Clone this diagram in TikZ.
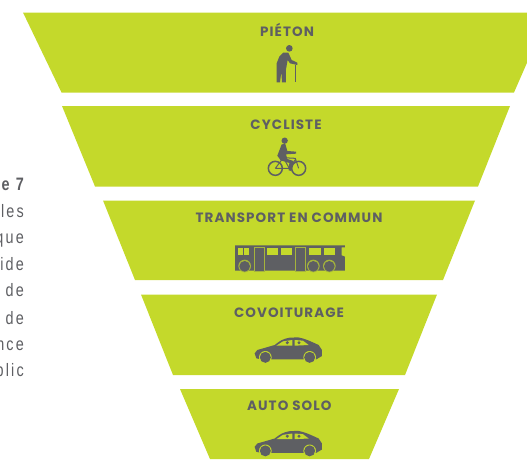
\documentclass[tikz,border=0pt]{standalone}
\usepackage{fontspec}
\setmainfont{Poppins}
\newfontfamily\sidefont[FakeStretch=0.8,LetterSpace=12]{Liberation Sans}
\definecolor{lime}{HTML}{C4D92B}
\definecolor{ink}{HTML}{5E5F63}
\tikzset{
  band/.style={fill=lime,draw=none},
  label/.style={font=\fontsize{13.5}{15}\selectfont\bfseries\addfontfeature{LetterSpace=8},text=ink,inner sep=0pt,anchor=center},
  side/.style={font=\sidefont\fontsize{18}{20}\selectfont,text=ink,inner sep=0pt,anchor=base east},
  ink fill/.style={fill=ink,draw=none},
  lime fill/.style={fill=lime,draw=none},
}
\newcommand{\caricon}[2]{%
  \begin{scope}[shift={(#1,#2)},x=0.3333pt,y=-0.3333pt]
    \path[ink fill] (20,70) -- (28,60) -- (80,45) .. controls (95,33) and (105,26) .. (125,23) -- (150,22) .. controls (170,25) and (190,35) .. (212,45) -- (222,60) -- (222,78) -- (205,88) -- (40,88) -- (25,85) -- cycle;
    \path[lime fill] (85,47) -- (105,34) -- (133,30) -- (133,47) -- cycle;
    \path[lime fill] (140,30) -- (165,32) -- (182,45) -- (140,47) -- cycle;
    \path[ink fill] (118,38) circle (5) (153,38) circle (5);
    \foreach \cx in {52,185} {
      \path[lime fill] (\cx,82) circle (19);
      \path[ink fill] (\cx,82) circle (16.5);
    }
  \end{scope}}
\begin{document}
\begin{tikzpicture}[x=1pt,y=-1pt]
\useasboundingbox (0,0) rectangle (527,459);
\clip (0,0) rectangle (527,459);
% funnel bands
\path[band] (23,12.5) -- (549,12.5) -- (514,92.5) -- (61.5,92.5) -- cycle;
\path[band] (62,106) -- (510,106) -- (478,186.5) -- (95,186.5) -- cycle;
\path[band] (103,200.5) -- (475,200.5) -- (443,280) -- (135,280) -- cycle;
\path[band] (141,294.5) -- (437,294.5) -- (405,375) -- (173,375) -- cycle;
\path[band] (180,389) -- (399,389) -- (369,459) -- (210,459) -- cycle;
% labels
\node[label] (pieton) at (287,30) {PIÉTON};
\node[label] (cycliste) at (286,125) {CYCLISTE};
\node[label] (transport) at (289,218) {TRANSPORT EN COMMUN};
\node[label] (covoiturage) at (289,312.7) {COVOITURAGE};
\node[label] (auto) at (289.3,406) {AUTO SOLO};
% side text, cut by the page edge
\node[side,font=\sidefont\fontsize{18}{20}\selectfont\bfseries] (s0) at (24,190) {e 7};
\node[side] (s1) at (24,217.3) {les};
\node[side] (s2) at (24,243.5) {que};
\node[side] (s3) at (24,270) {ide};
\node[side] (s4) at (24,296.7) {de};
\node[side] (s5) at (24,324) {de};
\node[side] (s6) at (24,350) {nce};
\node[side] (s7) at (24,376.7) {blic};
% pedestrian
\begin{scope}[shift={(220,10)},x=0.3333pt,y=-0.3333pt]
  \path[ink fill] (208,115) circle (10);
  \path[ink fill] (190,128) -- (205,128) -- (215,150) -- (232,158) -- (232,165) -- (210,160) -- (203,150) -- (198,178) -- (198,217) -- (186,217) -- (184,185) -- (180,217) -- (170,217) -- (170,160) -- (178,140) -- cycle;
  \draw[ink,line width=1.1pt] (226,165) -- (226,215);
\end{scope}
% cyclist
\begin{scope}[shift={(260,135)},x=0.3333pt,y=-0.3333pt]
  \path[ink fill] (74,17) circle (9.5);
  \path[ink fill] (65,28) -- (76,27) -- (82,48) -- (108,50) -- (108,56) -- (78,58) -- (82,72) -- (100,78) -- (94,108) -- (86,106) -- (88,84) -- (62,76) -- (52,62) -- cycle;
  \draw[ink,line width=1.5pt] (46,100) circle (21) (116,100) circle (21);
  \draw[ink,line width=1pt] (46,100) -- (70,68) -- (106,70) -- (116,100) (70,68) -- (88,100) -- (106,74) (46,100) -- (88,100);
\end{scope}
% bus
\begin{scope}[shift={(230,238)},x=0.3333pt,y=-0.3333pt]
  \path[ink fill] (15,22) -- (345,22) -- (345,28) -- (335,28) -- (335,52) -- (345,56) -- (345,98) -- (15,98) -- cycle;
  \foreach \a/\b in {24/38,42/58,110/145,152/187,238/272,282/316} {
    \path[lime fill] (\a,29) rectangle (\b,52);
  }
  \draw[lime!70!ink,line width=0.6pt,fill=ink] (73,27) rectangle (102,99) (197,27) rectangle (226,99);
  \foreach \cx in {44,250,298} {
    \path[lime!70!ink,draw=none,fill] (\cx,84) circle (19);
    \path[ink fill] (\cx,85) circle (16);
  }
\end{scope}
% cars
\caricon{248}{330}
\caricon{248}{423.5}
\end{tikzpicture}
\end{document}
